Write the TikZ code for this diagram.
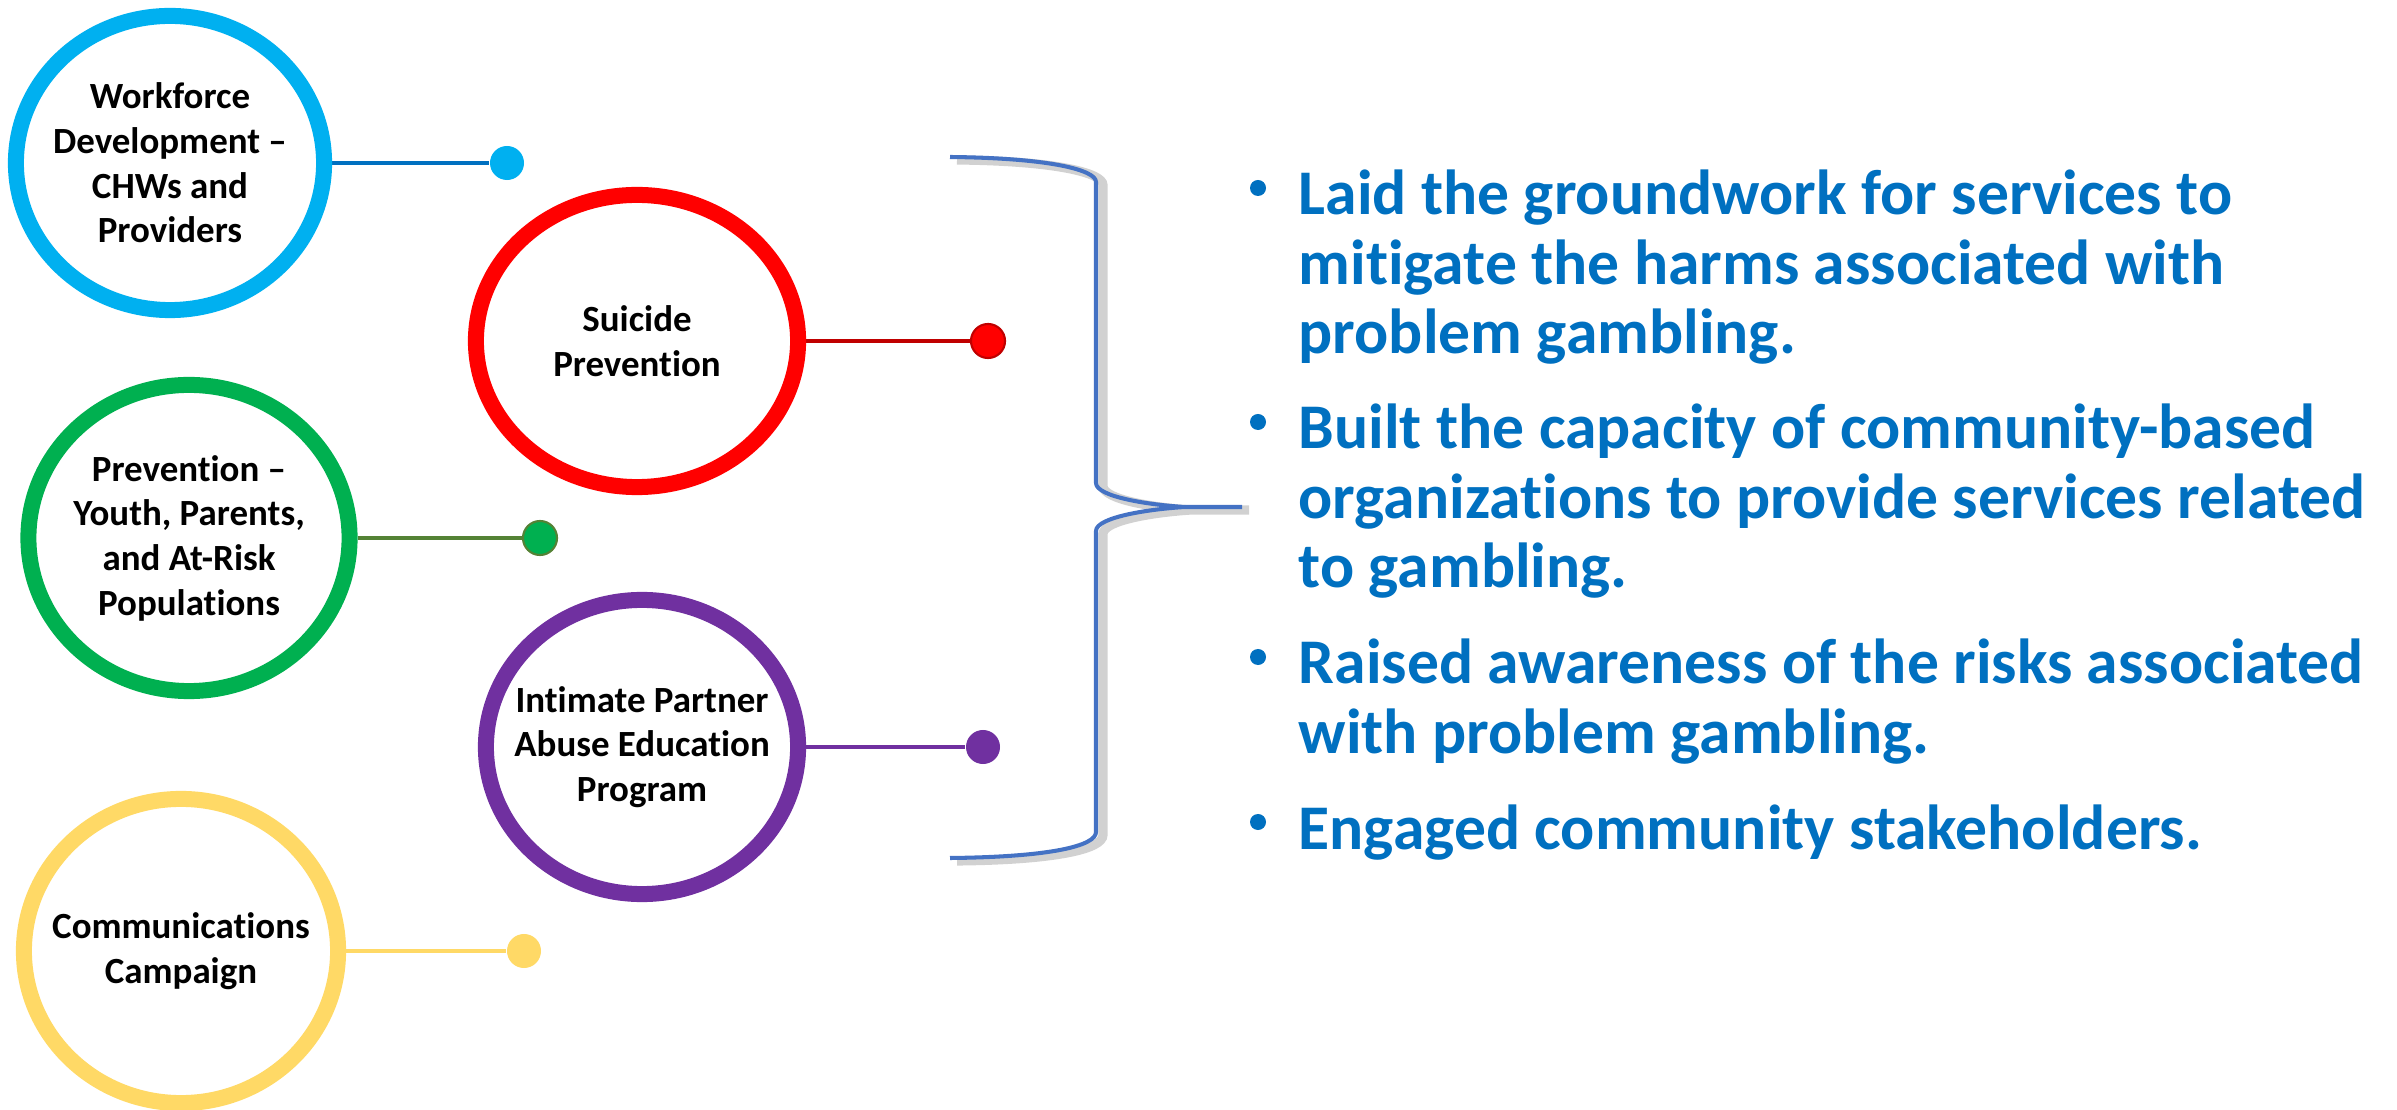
\documentclass[tikz,border=0pt]{standalone}
\usepackage{fontspec}
\setmainfont{Carlito}[Ligatures={TeX,NoCommon}]
\usepackage{tikz}
\usetikzlibrary{shapes.geometric,backgrounds}

\definecolor{wfblue}{HTML}{00B0F0}
\definecolor{wfline}{HTML}{0070C0}
\definecolor{spred}{HTML}{FF0000}
\definecolor{spline}{HTML}{C00000}
\definecolor{pvgreen}{HTML}{00B050}
\definecolor{pvline}{HTML}{548235}
\definecolor{ippurple}{HTML}{7030A0}
\definecolor{ccyellow}{HTML}{FFD966}
\definecolor{textblue}{HTML}{0070C0}
\definecolor{braceblue}{HTML}{4472C4}

\begin{document}
\begin{tikzpicture}[x=0.01cm, y=-0.01cm,
ring/.style={draw=#1, ellipse, line width=0.16cm, fill=white, inner sep=0pt},
tag/.style={font=\bfseries\fontsize{10.5}{12.7}\selectfont, align=center, text=black},
dot/.style={circle, fill=#1, inner sep=0pt, minimum size=0.34cm},
link/.style={draw=#1, line width=0.9pt},
item/.style={anchor=base west, align=left, inner sep=0pt, text=textblue,
  font=\bfseries\fontsize{18.1}{19.8}\selectfont},
bul/.style={circle, fill=textblue, inner sep=0pt, minimum size=0.16cm}
]
\useasboundingbox (0,0) rectangle (2397,1110);

% topic rings
\node[ring=wfblue, minimum width=3.08cm, minimum height=2.94cm,
  label={[tag]center:{Workforce\\Development --\\CHWs and\\Providers}}] (wf) at (170,163) {};
\node[ring=spred, minimum width=3.22cm, minimum height=2.92cm,
  label={[tag]center:{Suicide\\Prevention}}] (sp) at (637,341) {};
\node[ring=pvgreen, minimum width=3.21cm, minimum height=3.06cm,
  label={[tag]center:{Prevention --\\Youth, Parents,\\and At-Risk\\Populations}}] (pv) at (189,538) {};
\node[ring=ippurple, minimum width=3.12cm, minimum height=2.94cm,
  label={[tag]center:{Intimate Partner\\Abuse Education\\Program}}] (ip) at (642,747) {};
\node[ring=ccyellow, minimum width=3.14cm, minimum height=3.04cm,
  label={[tag]center:{Communications\\Campaign}}] (cc) at (181,951) {};

% end dots
\node[dot=wfblue] (wfdot) at (507,163) {};
\node[dot=spred, draw=spline, line width=0.6pt] (spdot) at (988,341) {};
\node[dot=pvgreen, draw=pvline, line width=0.6pt] (pvdot) at (540,538) {};
\node[dot=ippurple] (ipdot) at (983,747) {};
\node[dot=ccyellow] (ccdot) at (524,951) {};

\begin{scope}[on background layer]
\draw[link=wfline] (wf) -- (wfdot);
\draw[link=spline] (sp) -- (spdot);
\draw[link=pvline] (pv) -- (pvdot);
\draw[link=ippurple] (ip) -- (ipdot);
\draw[link=ccyellow] (cc) -- (ccdot);
\end{scope}

% brace
\draw[braceblue, line width=1.15pt, line join=round,
  preaction={draw=black!18, line width=2.6pt, transform canvas={shift={(7,3)}}}]
  (950,157) .. controls (1050,158) and (1096,170) .. (1096,182) -- (1096,483)
  .. controls (1096,497) and (1150,505) .. (1185,507) -- (1242,507)
  (1185,507) .. controls (1150,509) and (1096,517) .. (1096,531) -- (1096,832)
  .. controls (1096,846) and (1050,857) .. (950,858);

% outcomes (anchored at the baseline of the last line)
\node[bul] (b1) at (1258,188) {};
\node[item] (t1) at (1298,354) {Laid the groundwork for services to\\mitigate the harms associated with\\problem gambling.};
\node[bul] (b2) at (1258,422) {};
\node[item] (t2) at (1298,588) {Built the capacity of community-based\\organizations to provide services related\\to gambling.};
\node[bul] (b3) at (1258,657) {};
\node[item] (t3) at (1298,753) {Raised awareness of the risks associated\\with problem gambling.};
\node[bul] (b4) at (1258,822) {};
\node[item] (t4) at (1298,849) {Engaged community stakeholders.};
\end{tikzpicture}
\end{document}
